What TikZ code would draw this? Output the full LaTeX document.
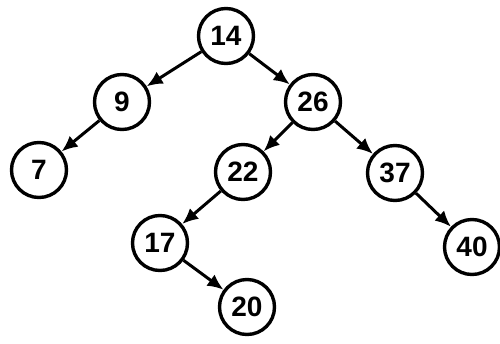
\documentclass[tikz,border=0pt]{standalone}
\usepackage{fontspec}
\setmainfont{Liberation Sans}
\usetikzlibrary{arrows.meta}
\begin{document}
\begin{tikzpicture}[x=1pt,y=-1pt,
  tnode/.style={circle,draw=black,line width=3.4pt,fill=white,minimum size=55pt,inner sep=0pt,font=\bfseries\fontsize{28}{28}\selectfont},
  tedge/.style={line width=3pt,-{Latex[length=16pt,width=14pt]}}]
\useasboundingbox (0,0) rectangle (500,343);
\node[tnode] (n14) at (226,36) {14};
\node[tnode] (n9) at (122,102) {9};
\node[tnode] (n26) at (313,102) {26};
\node[tnode] (n7) at (39,170) {7};
\node[tnode] (n22) at (243,172) {22};
\node[tnode] (n37) at (395,173) {37};
\node[tnode] (n17) at (160,243) {17};
\node[tnode] (n40) at (472,247) {40};
\node[tnode] (n20) at (247,307) {20};
\draw[tedge] (n14) -- (n9);
\draw[tedge] (n14) -- (n26);
\draw[tedge] (n9) -- (n7);
\draw[tedge] (n26) -- (n22);
\draw[tedge] (n26) -- (n37);
\draw[tedge] (n22) -- (n17);
\draw[tedge] (n37) -- (n40);
\draw[tedge] (n17) -- (n20);
\end{tikzpicture}
\end{document}
